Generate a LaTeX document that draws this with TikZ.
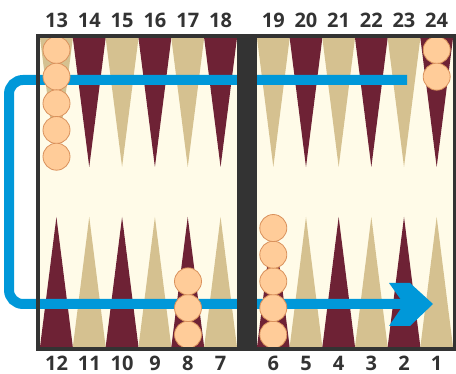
\documentclass[tikz,border=0pt]{standalone}
\usepackage{fontspec}
\setmainfont{Open Sans}

\definecolor{boardbg}{HTML}{FFFBE8}
\definecolor{darkpt}{HTML}{6E2235}
\definecolor{lightpt}{HTML}{D5C190}
\definecolor{boardframe}{HTML}{333333}
\definecolor{route}{HTML}{0098D9}
\definecolor{chk}{HTML}{FFCC99}
\definecolor{chkedge}{HTML}{D9915C}

\begin{document}
\begin{tikzpicture}[
x=1pt, y=-1pt,
ptlabel/.style={
font=\bfseries\fontsize{20}{20}\selectfont,
text=boardframe,
inner sep=0pt
},
checker/.style={
circle,
draw=chkedge,
fill=chk,
line width=0.8pt,
minimum size=27pt,
inner sep=0pt
}
]

\useasboundingbox (0,0) rectangle (456,374);

% board
\fill[boardbg] (38,36) rectangle (455,349);

% points, top row
\foreach \i in {0,...,5} {
\pgfmathsetmacro{\xl}{40+32.83*\i}
\pgfmathsetmacro{\xr}{257+32.67*\i}
\pgfmathtruncatemacro{\odd}{mod(\i,2)}
\ifnum\odd=0
\def\ctop{lightpt}\def\cbot{darkpt}
\else
\def\ctop{darkpt}\def\cbot{lightpt}
\fi
\fill[\ctop] (\xl,38) -- (\xl+32.83,38) -- (\xl+16.42,167) -- cycle;
\fill[\ctop] (\xr,38) -- (\xr+32.67,38) -- (\xr+16.33,167) -- cycle;
\fill[\cbot] (\xl,347) -- (\xl+32.83,347) -- (\xl+16.42,217) -- cycle;
\fill[\cbot] (\xr,347) -- (\xr+32.67,347) -- (\xr+16.33,217) -- cycle;
}

% route
\coordinate (start) at (407,80);
\coordinate (turn) at (9,200);
\coordinate (end) at (406,304);
\coordinate (tip) at (433,304);

\draw[route, line width=10pt, rounded corners=14pt]
(start) -| (turn) |- (end);

\fill[route] (tip) -- ++(-23,22) -- ++(-21,0) -- ++(15,-22)
-- ++(-15,-21) -- ++(21,0) -- cycle;

% checkers
\foreach \k in {0,...,4} {
\node[checker] (c13-\k) at (56.5,50+26.67*\k) {};
\node[checker] (c6-\k) at (273.3,334.7-26.67*\k) {};
}
\foreach \k in {0,1} {
\node[checker] (c24-\k) at (436.7,50+26.67*\k) {};
}
\foreach \k in {0,1,2} {
\node[checker] (c8-\k) at (188,334.7-26.67*\k) {};
}

% bar and frame
\fill[boardframe] (237,36) rectangle (257,349);
\draw[boardframe, line width=4pt] (38,36) rectangle (455,349);

% numbers
\foreach \i in {0,...,5} {
\pgfmathtruncatemacro{\ntl}{13+\i}
\pgfmathtruncatemacro{\ntr}{19+\i}
\pgfmathtruncatemacro{\nbl}{12-\i}
\pgfmathtruncatemacro{\nbr}{6-\i}
\node[ptlabel] (t\ntl) at (56.5+32.83*\i,20.5) {\ntl};
\node[ptlabel] (t\ntr) at (273.3+32.67*\i,20.5) {\ntr};
\node[ptlabel] (b\nbl) at (56.5+32.83*\i,363.5) {\nbl};
\node[ptlabel] (b\nbr) at (273.3+32.67*\i,363.5) {\nbr};
}

\end{tikzpicture}
\end{document}
